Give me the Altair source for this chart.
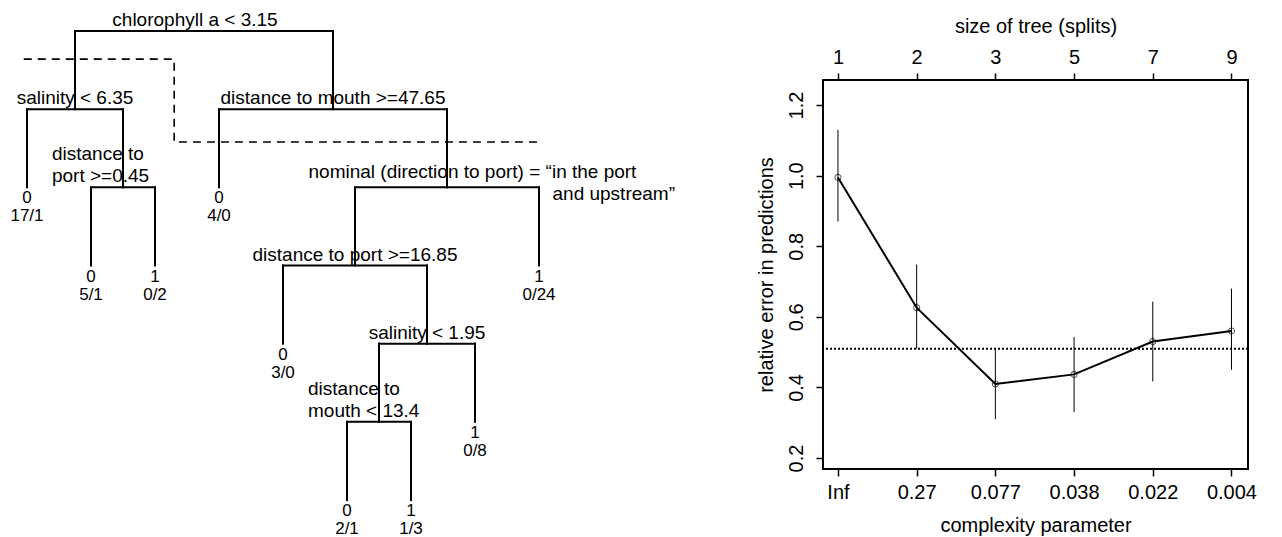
import json
import altair as alt
import pandas as pd

# ---------------- tree data (rpart numbering: children of n are 2n, 2n+1) ----------------
split_ids = [1, 2, 3, 5, 7, 14, 29, 58]
split_line1 = ["chlorophyll a < 3.15", "salinity < 6.35", "distance to mouth >=47.65",
               "distance to", "nominal (direction to port) = \u201cin the port",
               "distance to port >=16.85", "salinity < 1.95", "distance to"]
split_line2 = ["", "", "", "port >=0.45", "and upstream\u201d", "", "", "mouth < 13.4"]
split_style = ["root", "center", "center", "two", "nominal", "center", "center", "two"]
leaf_ids = [4, 10, 11, 6, 28, 116, 117, 59, 15]
leaf_class = ["0", "0", "1", "0", "0", "0", "1", "1", "1"]
leaf_counts = ["17/1", "5/1", "0/2", "4/0", "3/0", "2/1", "1/3", "0/8", "0/24"]
# pruning cut (dashed), in (leaf position, depth) units
cut_pos = [-0.05, 2.3, 2.3, 8.06]
cut_depth = [0.36, 0.36, 1.42, 1.42]

# ---------------- cp plot data ----------------
cp_labels = ["Inf", "0.27", "0.077", "0.038", "0.022", "0.004"]
tree_sizes = ["1", "2", "3", "5", "7", "9"]
xerror = [0.995, 0.626, 0.410, 0.437, 0.530, 0.560]
xerror_lo = [0.870, 0.510, 0.310, 0.330, 0.417, 0.450]
xerror_hi = [1.130, 0.748, 0.507, 0.543, 0.643, 0.680]
min_plus_se = [0.51]

# ---------------- tree layout (uniform depth, leaves equally spaced) ----------------
internal = set(split_ids)


def depth(n):
    return n.bit_length() - 1


pos = {}
counter = [0]


def place(n):
    if n in internal:
        pos[n] = (place(2 * n) + place(2 * n + 1)) / 2
    else:
        pos[n] = counter[0]
        counter[0] += 1
    return pos[n]


place(1)

all_nodes = split_ids + leaf_ids
edges = pd.DataFrame([{"x": pos[n], "y": depth(n // 2), "y2": depth(n)} for n in all_nodes if n != 1])
bars = pd.DataFrame([{"x": pos[2 * n], "x2": pos[2 * n + 1], "y": depth(n)} for n in split_ids])
splits = pd.DataFrame({"x": [pos[n] for n in split_ids], "y": [depth(n) for n in split_ids],
                       "l1": split_line1, "l2": split_line2, "style": split_style})
leaves = pd.DataFrame({"x": [pos[n] for n in leaf_ids], "y": [depth(n) for n in leaf_ids],
                       "cls": leaf_class, "cnt": leaf_counts})
cut = pd.DataFrame({"x": cut_pos, "y": cut_depth, "o": list(range(len(cut_pos)))})

FONT = "Liberation Sans"
tx = alt.Scale(domain=[-0.281, 10.5])
ty = alt.Scale(domain=[0.627, 5.603], reverse=True)
X = lambda f: alt.X(f, scale=tx, axis=None)
Y = lambda f: alt.Y(f, scale=ty, axis=None)

edge_l = alt.Chart(edges).mark_rule(color="black", strokeWidth=2, strokeCap="square").encode(
    x=X("x:Q"), y=Y("y:Q"), y2="y2:Q")
bar_l = alt.Chart(bars).mark_rule(color="black", strokeWidth=2, strokeCap="square").encode(
    x=X("x:Q"), x2="x2:Q", y=Y("y:Q"))
cut_l = alt.Chart(cut).mark_line(color="black", strokeWidth=1.6, strokeDash=[8, 6]).encode(
    x=X("x:Q"), y=Y("y:Q"), order="o:Q")

txt = dict(font=FONT, fontSize=19, color="black", baseline="middle")


def lab(style, field, **kw):
    return alt.Chart(splits).transform_filter(f"datum.style == '{style}'").mark_text(
        **txt, **kw).encode(x=X("x:Q"), y=Y("y:Q"), text=f"{field}:N")


lab_r = lab("root", "l1", align="center", dx=-9, dy=-11)
lab_c = lab("center", "l1", align="center", dy=-11)
lab_t1 = lab("two", "l1", align="left", dx=-71, dy=-33)
lab_t2 = lab("two", "l2", align="left", dx=-71, dy=-11)
lab_n1 = lab("nominal", "l1", align="left", dx=-138.5, dy=-15)
lab_n2 = lab("nominal", "l2", align="left", dx=105.5, dy=7)

ltxt = dict(font=FONT, fontSize=17, color="black", baseline="middle", align="center")
leaf_c = alt.Chart(leaves).mark_text(dy=11, **ltxt).encode(x=X("x:Q"), y=Y("y:Q"), text="cls:N")
leaf_n = alt.Chart(leaves).mark_text(dy=29, **ltxt).encode(x=X("x:Q"), y=Y("y:Q"), text="cnt:N")

tree = alt.layer(cut_l, edge_l, bar_l, lab_r, lab_c, lab_t1, lab_t2, lab_n1, lab_n2,
                 leaf_c, leaf_n).properties(
    width=690, height=389, view=alt.ViewBackground(stroke="transparent"))

# ---------------- cp plot ----------------
cp = pd.DataFrame({"idx": list(range(1, len(cp_labels) + 1)), "xerror": xerror,
                   "lo": xerror_lo, "hi": xerror_hi})
thr = pd.DataFrame({"y": min_plus_se})
xs = alt.Scale(domain=[0.81, 6.21])
ys = alt.Scale(domain=[0.169, 1.271])
ax_common = dict(grid=False, domain=False, tickSize=7, tickWidth=1.5, tickColor="black",
                 labelFontSize=20, titleFontSize=20, labelColor="black", titleColor="black",
                 titleFontWeight="normal", labelFlush=False, labelOverlap=False, labelFont=FONT,
                 titleFont=FONT)
x_bottom = alt.Axis(orient="bottom", values=list(range(1, 7)),
                    labelExpr=json.dumps(cp_labels) + "[datum.value - 1]",
                    title="complexity parameter", labelPadding=6, titlePadding=13, **ax_common)
x_top = alt.Axis(orient="top", values=list(range(1, 7)),
                 labelExpr=json.dumps(tree_sizes) + "[datum.value - 1]",
                 title="size of tree (splits)", labelPadding=6, titlePadding=11, **ax_common)
y_axis = alt.Axis(values=[0.2, 0.4, 0.6, 0.8, 1.0, 1.2], format=".1f", labelAngle=270,
                  labelAlign="center", labelBaseline="bottom", labelPadding=10,
                  title="relative error in predictions", titlePadding=10, **ax_common)

err = alt.Chart(cp).mark_rule(color="black", strokeWidth=1).encode(
    x=alt.X("idx:Q", scale=xs, axis=x_bottom), y=alt.Y("lo:Q", scale=ys, axis=y_axis), y2="hi:Q")
line = alt.Chart(cp).mark_line(color="black", strokeWidth=2).encode(
    x=alt.X("idx:Q", scale=xs), y=alt.Y("xerror:Q", scale=ys))
pts = alt.Chart(cp).mark_point(shape="circle", filled=False, size=38, color="black",
                               strokeWidth=1).encode(
    x=alt.X("idx:Q", scale=xs), y=alt.Y("xerror:Q", scale=ys))
thr_l = alt.Chart(thr).mark_rule(color="black", strokeWidth=2, strokeDash=[2, 2]).encode(
    y=alt.Y("y:Q", scale=ys))
base = alt.layer(err, line, pts, thr_l)
top = alt.Chart(cp).mark_point(opacity=0).encode(x=alt.X("idx:Q", scale=xs, axis=x_top))

right = alt.layer(base, top).resolve_scale(x="independent").properties(
    width=425, height=389, view=alt.ViewBackground(stroke="black", strokeWidth=2))

chart = alt.HConcatChart(hconcat=[tree, right], spacing=124, bounds="flush",
                         padding={"left": 0, "top": 2, "right": 0, "bottom": 0}).configure(
    font=FONT).configure_view(stroke="transparent")

chart.save("out.html", embed_options={"renderer": "svg", "actions": False})
